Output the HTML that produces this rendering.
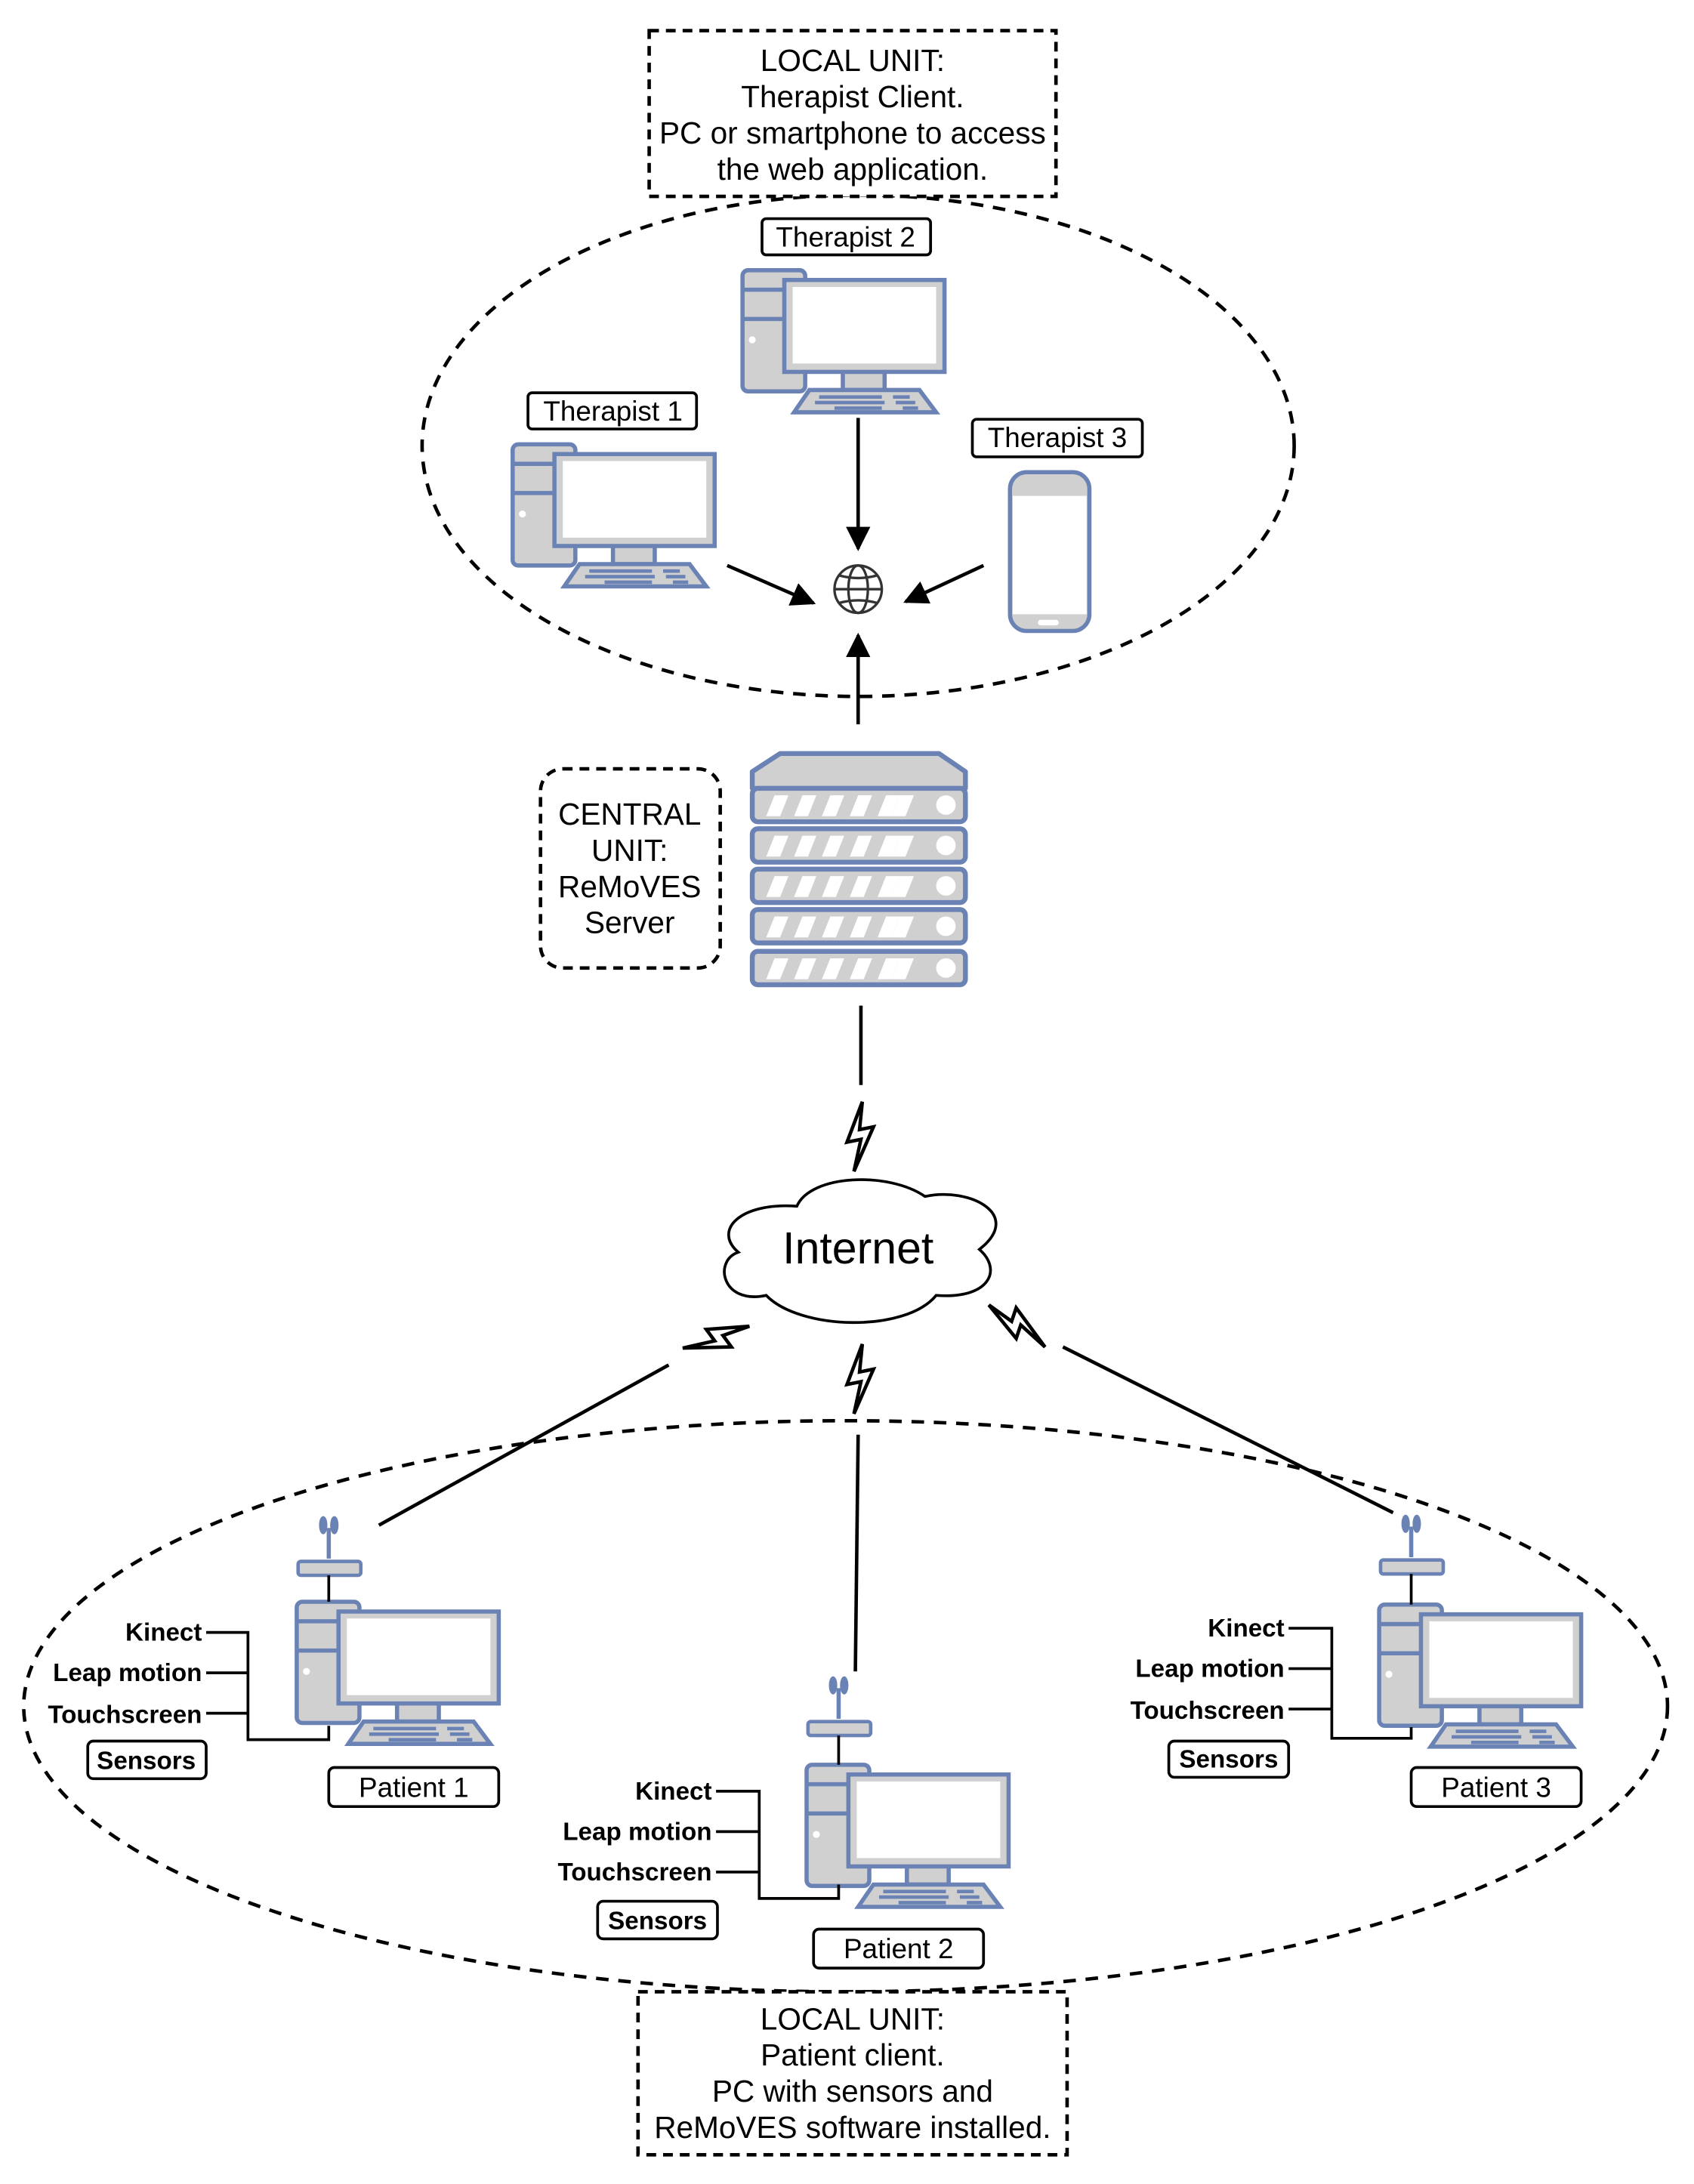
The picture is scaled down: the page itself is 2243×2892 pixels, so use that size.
<!DOCTYPE html>
<html><head><meta charset="utf-8"><style>html,body{margin:0;padding:0;background:#fff}svg{display:block}</style></head>
<body>
<svg width="2243" height="2892" viewBox="0 0 1216 1568" preserveAspectRatio="none" xmlns="http://www.w3.org/2000/svg" font-family="Liberation Sans, sans-serif">
<defs>
<marker id="ar" viewBox="0 0 10 10" refX="9" refY="5" markerWidth="7" markerHeight="7" orient="auto"><path d="M0,0 L10,5 L0,10 Z" fill="#000"/></marker>
<g id="pc" stroke="#6a82b4" stroke-width="3" fill="#d0d0d0">
<rect x="0" y="0" width="45" height="87" rx="4"/>
<line x1="1" y1="14" x2="30" y2="14"/><line x1="1" y1="35" x2="30" y2="35"/>
<circle cx="7" cy="50" r="2.5" fill="#fff" stroke="none"/>
<rect x="72" y="72" width="30" height="14"/>
<rect x="30" y="7" width="115" height="66"/>
<rect x="36" y="12" width="103" height="55" fill="#fff" stroke="none"/>
<path d="M48,86 L127,86 L139,102 L37,102 Z"/>
<g stroke-width="2.5"><line x1="55" y1="91" x2="100" y2="91"/><line x1="108" y1="91" x2="120" y2="91"/><line x1="52" y1="95" x2="102" y2="95"/><line x1="110" y1="95" x2="124" y2="95"/><line x1="66" y1="99" x2="100" y2="99"/><line x1="115" y1="99" x2="126" y2="99"/></g>
</g>
<g id="rt" stroke="#6a82b4" fill="#d0d0d0">
<line x1="22" y1="-2" x2="22" y2="-24" stroke-width="3"/>
<ellipse cx="18" cy="-26" rx="2.5" ry="6" fill="#6a82b4"/><ellipse cx="26" cy="-26" rx="2.5" ry="6" fill="#6a82b4"/>
<rect x="0" y="0" width="45" height="10" rx="2" stroke-width="2.5"/>
</g>
<path id="bolt" d="M3,-25 L-8,4 L2,2 L-3,25 L11,-7 L1,-5 Z" fill="#fff" stroke="#000" stroke-width="2.5" stroke-linejoin="miter"/>
<g id="srvu" stroke="#6a82b4" stroke-width="3.5"><rect x="0" y="0" width="153" height="24" rx="4" fill="#d0d0d0"/>
<g fill="#fff" stroke="none"><path d="M10,20 L16,5 L26,5 L20,20Z"/><path d="M30,20 L36,5 L46,5 L40,20Z"/><path d="M50,20 L56,5 L66,5 L60,20Z"/><path d="M70,20 L76,5 L86,5 L80,20Z"/><path d="M90,20 L96,5 L106,5 L100,20Z"/><path d="M100,20 L106,5 L116,5 L110,20Z"/><circle cx="139" cy="12" r="7"/></g></g>
</defs>

<ellipse cx="616" cy="320" rx="313" ry="180" fill="none" stroke="#000" stroke-width="2.5" stroke-dasharray="9,7"/>
<ellipse cx="607" cy="1225" rx="590" ry="205" fill="none" stroke="#000" stroke-width="2.5" stroke-dasharray="9,7"/>

<rect x="466" y="22" width="292" height="119" fill="#fff" stroke="#000" stroke-width="2.5" stroke-dasharray="7,5"/>
<g font-size="22" text-anchor="middle" fill="#000">
<text x="612" y="51">LOCAL UNIT:</text><text x="612" y="77">Therapist Client.</text><text x="612" y="103">PC or smartphone to access</text><text x="612" y="129">the web application.</text></g>

<rect x="458" y="1430" width="308" height="117" fill="#fff" stroke="#000" stroke-width="2.5" stroke-dasharray="7,5"/>
<g font-size="22" text-anchor="middle" fill="#000">
<text x="612" y="1457">LOCAL UNIT:</text><text x="612" y="1483">Patient client.</text><text x="612" y="1509">PC with sensors and</text><text x="612" y="1535">ReMoVES software installed.</text></g>

<rect x="388" y="552" width="129" height="143" rx="16" fill="#fff" stroke="#000" stroke-width="2.5" stroke-dasharray="7,5"/>
<g font-size="22" text-anchor="middle"><text x="452" y="592">CENTRAL</text><text x="452" y="618">UNIT:</text><text x="452" y="644">ReMoVES</text><text x="452" y="670">Server</text></g>

<use href="#pc" x="533" y="194"/>
<use href="#pc" x="368" y="319"/>
<rect x="725" y="339" width="57" height="114" rx="12" fill="#d0d0d0" stroke="#6a82b4" stroke-width="3"/>
<rect x="727" y="356" width="53" height="85" fill="#fff"/>
<rect x="745" y="445" width="15" height="4" rx="2" fill="#fff"/>

<g font-size="20" text-anchor="middle" fill="#000">
<rect x="547" y="157" width="121" height="26" rx="3" fill="#fff" stroke="#000" stroke-width="2"/><text x="607" y="177">Therapist 2</text>
<rect x="379" y="282" width="121" height="26" rx="3" fill="#fff" stroke="#000" stroke-width="2"/><text x="440" y="302">Therapist 1</text>
<rect x="698" y="301" width="122" height="27" rx="3" fill="#fff" stroke="#000" stroke-width="2"/><text x="759" y="321">Therapist 3</text>
</g>

<g stroke="#333" stroke-width="1.8" fill="none"><circle cx="616" cy="423" r="17"/><ellipse cx="616" cy="423" rx="7" ry="17"/><line x1="599" y1="423" x2="633" y2="423"/><path d="M602,413 Q616,417 630,413 M602,433 Q616,429 630,433"/></g>

<g stroke="#000" stroke-width="2.5" marker-end="url(#ar)">
<line x1="616" y1="300" x2="616" y2="394"/>
<line x1="522" y1="406" x2="584" y2="433"/>
<line x1="706" y1="406" x2="650" y2="432"/>
<line x1="616" y1="520" x2="616" y2="456"/>
</g>

<path d="M560,541 L674,541 L693,554 L693,566 L540,566 L540,554 Z" fill="#d0d0d0" stroke="#6a82b4" stroke-width="3.5" stroke-linejoin="round"/>
<use href="#srvu" x="540" y="566"/>
<use href="#srvu" x="540" y="595"/>
<use href="#srvu" x="540" y="624"/>
<use href="#srvu" x="540" y="653"/>
<use href="#srvu" x="540" y="683"/>

<g stroke="#000" stroke-width="2.5">
<line x1="618" y1="722" x2="618" y2="779"/>
<line x1="272" y1="1095" x2="480" y2="980"/>
<line x1="614" y1="1200" x2="616" y2="1030"/>
<line x1="1000" y1="1086" x2="763" y2="967"/>
</g>
<use href="#bolt" transform="translate(616,816)"/>
<use href="#bolt" transform="translate(616,990)"/>
<use href="#bolt" transform="translate(514,960) rotate(65)"/>
<use href="#bolt" transform="translate(730,952) rotate(-60)"/>

<path d="M572,866 C582,843 638,841 664,859 C696,852 735,872 703,897 C720,912 710,933 672,930 C650,957 574,955 550,930 C518,937 512,905 530,899 C512,884 530,863 572,866 Z" fill="#fff" stroke="#000" stroke-width="2"/>
<text x="616" y="907" font-size="32" text-anchor="middle">Internet</text>

<use href="#pc" x="213" y="1150"/>
<use href="#pc" x="579" y="1267"/>
<use href="#pc" x="990" y="1152"/>
<use href="#rt" x="214" y="1121"/>
<use href="#rt" x="580" y="1236"/>
<use href="#rt" x="991" y="1120"/>
<g stroke="#000" stroke-width="2" fill="none">
<line x1="236" y1="1131" x2="236" y2="1150"/><line x1="602" y1="1246" x2="602" y2="1267"/><line x1="1013" y1="1130" x2="1013" y2="1152"/>
<path d="M148,1172 H178 V1249 H236 V1239 M148,1201 H178 M148,1230 H178"/>
<path d="M514,1286 H545 V1363 H602 V1353 M514,1315 H545 M514,1344 H545"/>
<path d="M925,1169 H956 V1248 H1013 V1240 M925,1198 H956 M925,1227 H956"/>
</g>
<g font-size="18" font-weight="bold" text-anchor="end">
<text x="145" y="1178">Kinect</text><text x="145" y="1207">Leap motion</text><text x="145" y="1237">Touchscreen</text>
<text x="511" y="1292">Kinect</text><text x="511" y="1321">Leap motion</text><text x="511" y="1350">Touchscreen</text>
<text x="922" y="1175">Kinect</text><text x="922" y="1204">Leap motion</text><text x="922" y="1234">Touchscreen</text>
</g>
<g stroke="#000" stroke-width="2" fill="#fff">
<rect x="63" y="1250" width="85" height="27" rx="4"/><rect x="429" y="1365" width="86" height="27" rx="4"/><rect x="839" y="1250" width="86" height="26" rx="4"/>
<rect x="236" y="1269" width="122" height="28" rx="4"/><rect x="584" y="1385" width="122" height="28" rx="4"/><rect x="1013" y="1269" width="122" height="28" rx="4"/>
</g>
<g font-size="18" font-weight="bold" text-anchor="middle">
<text x="105" y="1270">Sensors</text><text x="472" y="1385">Sensors</text><text x="882" y="1269">Sensors</text></g>
<g font-size="20" text-anchor="middle">
<text x="297" y="1290">Patient 1</text><text x="645" y="1406">Patient 2</text><text x="1074" y="1290">Patient 3</text></g>
</svg>
</body></html>
